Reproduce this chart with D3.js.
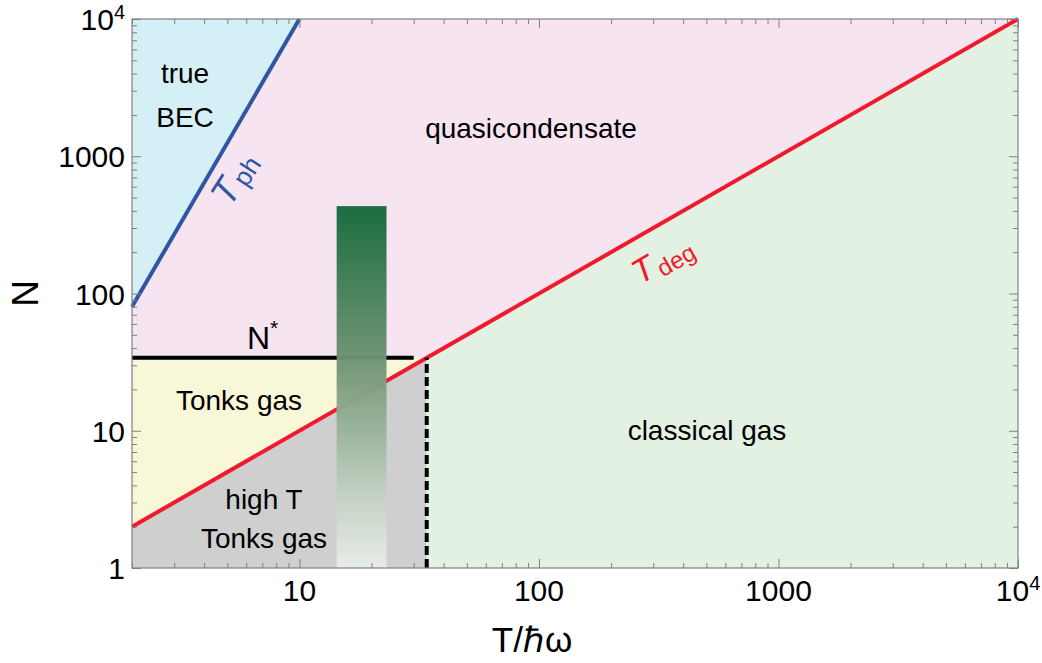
<!DOCTYPE html>
<html>
<head>
<meta charset="utf-8">
<script src="https://cdn.jsdelivr.net/npm/d3@7"></script>
<style>
  body { margin: 0; background: #fff; }
  svg { display: block; }
  text { font-family: "Liberation Sans", Arial, Helvetica, sans-serif; fill: #000; }
</style>
</head>
<body>
<svg id="chart" width="1042" height="663"></svg>
<script>
// ---- data -------------------------------------------------------------
const tDomain = [2, 10000];          // T / ħω
const nDomain = [1, 10000];          // N
const nStar = 34;                    // N* crossover
const tStar = 34;                    // T where T_deg crosses N*
const nStarLineEnd = 30;             // extent of the drawn N* segment
const phononLine = [[2, 80], [10, 10000]];      // T_ph : N = 10 T^3
const degLine = [[2, 2], [10000, 10000]];       // T_deg : N = T
const barT = [14.3, 23.1];
const barN = [1, 433];

const regionBEC = [[2, 80], [10, 10000], [2, 10000]];
const regionQuasi = [[2, 80], [10, 10000], [10000, 10000], [tStar, nStar], [2, nStar]];
const regionTonks = [[2, nStar], [tStar, nStar], [2, 2]];
const regionHighT = [[2, 1], [2, 2], [tStar, nStar], [tStar, 1]];
const regionClassical = [[tStar, 1], [tStar, nStar], [10000, 10000], [10000, 1]];

const xMajor = [10, 100, 1000, 10000];
const yMajor = [1, 10, 100, 1000, 10000];
const xTickLabels = ["10", "100", "1000", "10^4"];
const yTickLabels = ["1", "10", "100", "1000", "10^4"];
const regionLabels = ["true", "BEC", "quasicondensate", "Tonks gas", "high T", "Tonks gas", "classical gas"];

// ---- layout -----------------------------------------------------------
const svg = d3.select("#chart");
const W = 1042, H = 663;
const m = { left: 132, top: 19, right: 24, bottom: 95 };
const iw = W - m.left - m.right, ih = H - m.top - m.bottom;

const x = d3.scaleLog().domain(tDomain).range([0, iw]);
const y = d3.scaleLog().domain(nDomain).range([ih, 0]);

const g = svg.append("g").attr("transform", `translate(${m.left},${m.top})`);

const poly = pts => "M" + pts.map(p => `${x(p[0])},${y(p[1])}`).join("L") + "Z";
const line = d3.line().x(d => x(d[0])).y(d => y(d[1]));

// regions
[
  [regionBEC, "#d5eff6"],
  [regionQuasi, "#f6e5f0"],
  [regionTonks, "#f8f8d9"],
  [regionHighT, "#cfcfcf"],
  [regionClassical, "#e3f1e3"]
].forEach(([pts, c]) => g.append("path").attr("d", poly(pts)).attr("fill", c));

// boundaries
g.append("path").attr("d", line(degLine)).attr("stroke", "#f01a2c").attr("stroke-width", 4).attr("fill", "none");
g.append("path").attr("d", line(phononLine)).attr("stroke", "#2f55a3").attr("stroke-width", 4).attr("fill", "none");
g.append("path").attr("d", line([[tDomain[0], nStar], [nStarLineEnd, nStar]]))
  .attr("stroke", "#000").attr("stroke-width", 4).attr("fill", "none");

// gradient bar
const defs = svg.append("defs");
const grad = defs.append("linearGradient").attr("id", "barGrad")
  .attr("x1", 0).attr("y1", 0).attr("x2", 0).attr("y2", 1);
[[0, "#136a3b"], [0.42, "#6d9272"], [0.8, "#c3d1c2"], [1, "#e8ede8"]]
  .forEach(([o, c]) => grad.append("stop").attr("offset", o).attr("stop-color", c));
g.append("rect")
  .attr("x", x(barT[0])).attr("width", x(barT[1]) - x(barT[0]))
  .attr("y", y(barN[1])).attr("height", y(barN[0]) - y(barN[1]))
  .attr("fill", "url(#barGrad)").attr("opacity", 0.97);

// dashed T* line
g.append("path").attr("d", line([[tStar, nDomain[0]], [tStar, nStar]]))
  .attr("stroke", "#000").attr("stroke-width", 4).attr("stroke-dasharray", "9,4").attr("fill", "none");

// frame and ticks
const minorTicks = (lo, hi) => {
  const out = [];
  for (let d = 1; d < hi; d *= 10)
    for (let k = 2; k <= 9; k++) { const v = k * d; if (v >= lo && v <= hi) out.push(v); }
  return out;
};
const xMinor = minorTicks(tDomain[0], tDomain[1]);
const yMinor = minorTicks(nDomain[0], nDomain[1]);

function styleAxis(sel) {
  sel.select(".domain").remove();
  sel.selectAll("line").attr("stroke", "#808080").attr("stroke-width", 1);
  sel.selectAll("text").remove();
}
const axes = [
  [d3.axisBottom(x), `translate(0,${ih})`, xMajor, xMinor],
  [d3.axisTop(x), `translate(0,0)`, xMajor, xMinor],
  [d3.axisLeft(y), `translate(0,0)`, yMajor, yMinor],
  [d3.axisRight(y), `translate(${iw},0)`, yMajor, yMinor]
];
axes.forEach(([ax, tr, maj, min]) => {
  g.append("g").attr("transform", tr).call(ax.tickValues(maj).tickSize(-9).tickFormat("")).call(styleAxis);
  g.append("g").attr("transform", tr).call(ax.tickValues(min).tickSize(-5).tickFormat("")).call(styleAxis);
});
g.append("rect").attr("width", iw).attr("height", ih).attr("fill", "none")
  .attr("stroke", "#808080").attr("stroke-width", 1.2);

// tick labels
function powerLabel(sel, s) {
  const [b, e] = s.split("^");
  sel.append("tspan").text(b);
  if (e) sel.append("tspan").attr("dy", -11).attr("font-size", 20).text(e);
}
xMajor.forEach((v, i) => {
  g.append("text").attr("x", x(v)).attr("y", ih + 33).attr("font-size", 30)
    .attr("text-anchor", "middle").call(powerLabel, xTickLabels[i]);
});
yMajor.forEach((v, i) => {
  g.append("text").attr("x", -7).attr("y", y(v) + 11).attr("font-size", 30)
    .attr("text-anchor", "end").call(powerLabel, yTickLabels[i]);
});

// axis titles
svg.append("text").attr("x", 532).attr("y", 652).attr("font-size", 35)
  .attr("text-anchor", "middle").text("T/ℏω");
svg.append("text").attr("transform", `translate(38,${m.top + y(100)}) rotate(-90)`)
  .attr("font-size", 37).attr("text-anchor", "middle").text("N");

// region labels
const lbl = (t, px, py, fs) => svg.append("text").attr("x", px).attr("y", py)
  .attr("font-size", fs).attr("text-anchor", "middle").text(t);
lbl(regionLabels[0], 185, 83, 28);
lbl(regionLabels[1], 185, 127, 28);
lbl(regionLabels[2], 531, 138, 28);
lbl(regionLabels[3], 239, 410, 28);
lbl(regionLabels[4], 264, 509, 28);
lbl(regionLabels[5], 264, 548, 28);
lbl(regionLabels[6], 707, 440, 28);

// N* label
const ns = svg.append("text").attr("x", 247).attr("y", 349).attr("font-size", 32);
ns.append("tspan").text("N");
ns.append("tspan").attr("dy", -14).attr("font-size", 21).text("*");

// curve labels
function curveLabel(px, py, ang, sub, color, big, small, dy) {
  const t = svg.append("text").attr("transform", `translate(${px},${py}) rotate(${ang})`).attr("fill", color);
  t.append("tspan").attr("font-style", "italic").attr("font-size", big).attr("fill", color).text("T");
  t.append("tspan").attr("dx", 3).attr("dy", dy).attr("font-size", small).attr("fill", color).text(sub);
}
curveLabel(230, 208, -57, "ph", "#2f55a3", 37, 26, 3);
curveLabel(640, 285, -30, "deg", "#f01a2c", 34, 24, 5);
</script>
</body>
</html>
